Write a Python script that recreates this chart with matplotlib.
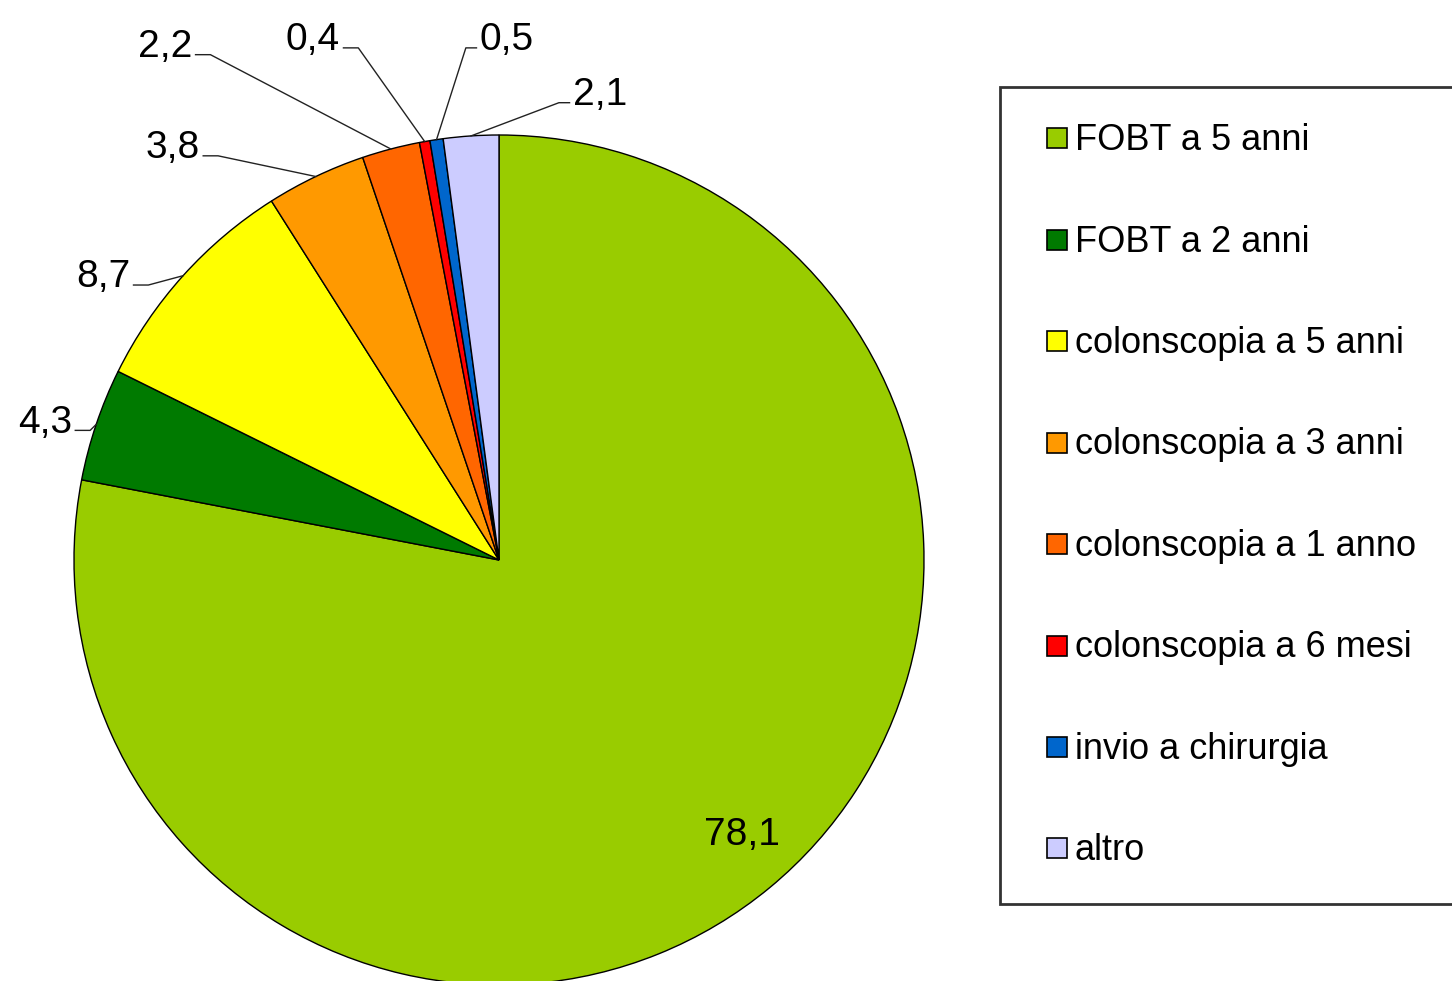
#!/usr/bin/env python3

import matplotlib
matplotlib.use("Agg")
import matplotlib.pyplot as plt
from matplotlib.lines import Line2D
import numpy as np

# categories and values (percent)
categories = ["FOBT a 5 anni", "FOBT a 2 anni", "colonscopia a 5 anni",
              "colonscopia a 3 anni", "colonscopia a 1 anno",
              "colonscopia a 6 mesi", "invio a chirurgia", "altro"]
values = [78.1, 4.3, 8.7, 3.8, 2.2, 0.4, 0.5, 2.1]
colors = ["#99CC00", "#007A00", "#FFFF00", "#FF9900", "#FF6600",
          "#FF0000", "#0066CC", "#CCCCFF"]

# where each value label sits (data units, pie radius = 1), and which side of the text the leader leaves
label_pos = [(0.572, -0.647), (-1.005, 0.300), (-0.868, 0.642), (-0.704, 0.946),
             (-0.722, 1.184), (-0.374, 1.200), (-0.045, 1.200), (0.174, 1.071)]
label_side = ["inside", "left", "left", "left", "left", "left", "right", "right"]

plt.rcParams['font.family'] = ['Liberation Sans', 'DejaVu Sans']

W, H = 1452, 981
fig = plt.figure(figsize=(W / 100, H / 100), dpi=100)
ax = fig.add_axes([74 / W, (H - 560 - 425) / H, 850 / W, 850 / H])

wedges, _ = ax.pie(values, colors=colors, startangle=90, counterclock=False,
                   wedgeprops=dict(edgecolor='black', linewidth=1))
ax.set_xlim(-1, 1)
ax.set_ylim(-1, 1)
ax.set_aspect('equal')

for w, v, (tx, ty), side in zip(wedges, values, label_pos, label_side):
    txt = f"{v:.1f}".replace('.', ',')
    if side == "inside":
        ax.text(tx, ty, txt, ha='center', va='center', fontsize=28)
        continue
    # leader goes to the middle of the wedge's outer edge
    theta = np.deg2rad((w.theta1 + w.theta2) / 2)
    ex, ey = np.cos(theta), np.sin(theta)
    if side == "left":
        ax.text(tx, ty, txt, ha='right', va='baseline', fontsize=28)
        x0 = tx + 0.008
        x1 = x0 + 0.035
    else:
        ax.text(tx, ty, txt, ha='left', va='baseline', fontsize=28)
        x0 = tx - 0.008
        x1 = x0 - 0.025
    ax.plot([x0, x1, ex], [ty + 0.005, ty + 0.005, ey], color='#222222',
            linewidth=1, clip_on=False)

handles = [Line2D([], [], linestyle='', marker='s', markersize=14,
                  markerfacecolor=c, markeredgecolor='black', markeredgewidth=1.2)
           for c in colors]
leg = fig.legend(handles, categories, loc='upper left',
                 bbox_to_anchor=(1000 / W, 0, 520 / W, 1 - 87 / H), mode='expand',
                 fontsize=26, frameon=True, fancybox=False, labelspacing=1.84,
                 borderpad=1.0, handlelength=1.15, handleheight=0.55,
                 handletextpad=-0.08, borderaxespad=0)
leg.get_frame().set_edgecolor('black')
leg.get_frame().set_linewidth(2)

fig.savefig("out.png", dpi=100)
